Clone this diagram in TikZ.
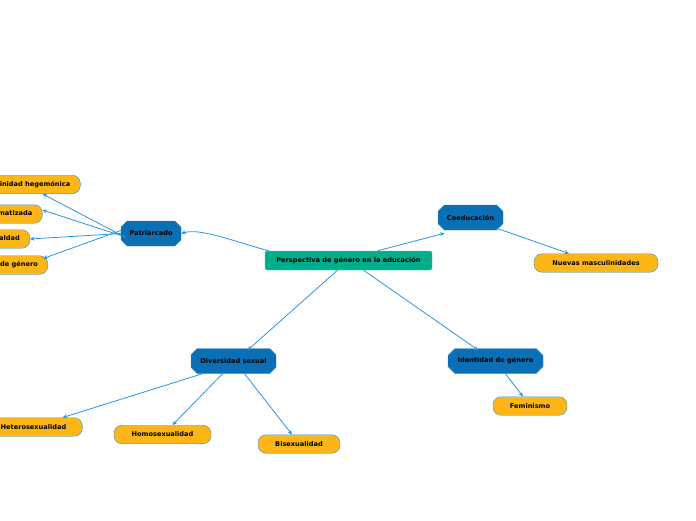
\documentclass[tikz,border=0pt]{standalone}
\usepackage{fontspec}
\setmainfont{DejaVu Sans}
\usetikzlibrary{shapes.misc,arrows.meta}
\definecolor{teal1}{HTML}{00AE8C}
\definecolor{hex}{HTML}{0A6FB5}
\definecolor{leaf}{HTML}{FDB618}
\definecolor{ln}{HTML}{2B96DB}
\tikzset{
 txt/.style={font=\bfseries\fontsize{6.6}{7}\selectfont, text=black, inner sep=0pt},
 root/.style={txt, fill=teal1, draw=teal1!70!white, rounded corners=2pt, minimum width=167pt, minimum height=19pt},
 hexn/.style={txt, chamfered rectangle, chamfered rectangle xsep=4pt, fill=hex, draw=hex!80!white, minimum height=25pt},
 leafn/.style={txt, fill=leaf, draw=ln, rounded corners=8pt, minimum height=18.5pt},
 leafl/.style={leafn, anchor=east, inner xsep=10pt},
 conn/.style={ln, line width=0.8pt, -{Stealth[length=4.5pt,width=4pt]}}
}
\begin{document}
\begin{tikzpicture}[x=1pt,y=-1pt]
\useasboundingbox (0,0) rectangle (696,520);
\clip (0,0) rectangle (696,520);
\node[root] (c) at (348.5,260.5) {Perspectiva de género en la educación};
\node[hexn, minimum width=60pt] (p) at (151,233.5) {Patriarcado};
\node[hexn, minimum width=65pt] (co) at (470.5,217.5) {Coeducación};
\node[hexn, minimum width=85pt] (d) at (233.5,361) {Diversidad sexual};
\node[hexn, minimum width=95pt] (i) at (495.5,361) {Identidad de género};
\node[leafl] (l1) at (80.5,184.5) {Masculinidad hegemónica};
\node[leafl] (l2) at (42.5,214) {Sexualidad estigmatizada};
\node[leafl] (l3) at (30,239) {Desigualdad};
\node[leafl] (l4) at (48,265) {Roles de género};
\node[leafn, minimum width=124pt] (nm) at (596,263) {Nuevas masculinidades};
\node[leafn, minimum width=74pt] (f) at (530,406) {Feminismo};
\node[leafl, inner xsep=16pt] (he) at (82.5,427) {Heterosexualidad};
\node[leafn, minimum width=97pt] (ho) at (162.5,434.5) {Homosexualidad};
\node[leafn, minimum width=82pt] (b) at (299,444) {Bisexualidad};
\draw[conn] ([xshift=-80pt]c.north) .. controls (230,240) and (200,228) .. (p.east);
\draw[conn] ([xshift=29pt]c.north) -- ([xshift=-26pt,yshift=-3pt]co.south);
\draw[conn] ([xshift=26pt,yshift=2pt]co.south) -- ([xshift=-27pt]nm.north);
\draw[conn] ([xshift=-11pt]c.south) -- ([xshift=14pt,yshift=-2pt]d.north);
\draw[conn] ([xshift=15pt]c.south) -- ([xshift=-17pt,yshift=-2pt]i.north);
\draw[conn] ([xshift=10pt]i.south) -- ([xshift=-7pt]f.north);
\draw[conn] ([xshift=-31pt]d.south) -- ([xshift=-20pt]he.north east);
\draw[conn] ([xshift=-11pt]d.south) -- ([xshift=10pt]ho.north);
\draw[conn] ([xshift=11pt]d.south) -- ([xshift=-7pt]b.north);
\draw[conn] ([xshift=5pt,yshift=-4pt]p.west) -- ([xshift=-38pt]l1.south east);
\draw[conn] ([yshift=-2pt]p.west) -- ([yshift=4pt]l2.east);
\draw[conn] (p.west) -- (l3.east);
\draw[conn] ([yshift=3pt]p.west) -- ([xshift=-5pt,yshift=-3pt]l4.north east);
\end{tikzpicture}
\end{document}
